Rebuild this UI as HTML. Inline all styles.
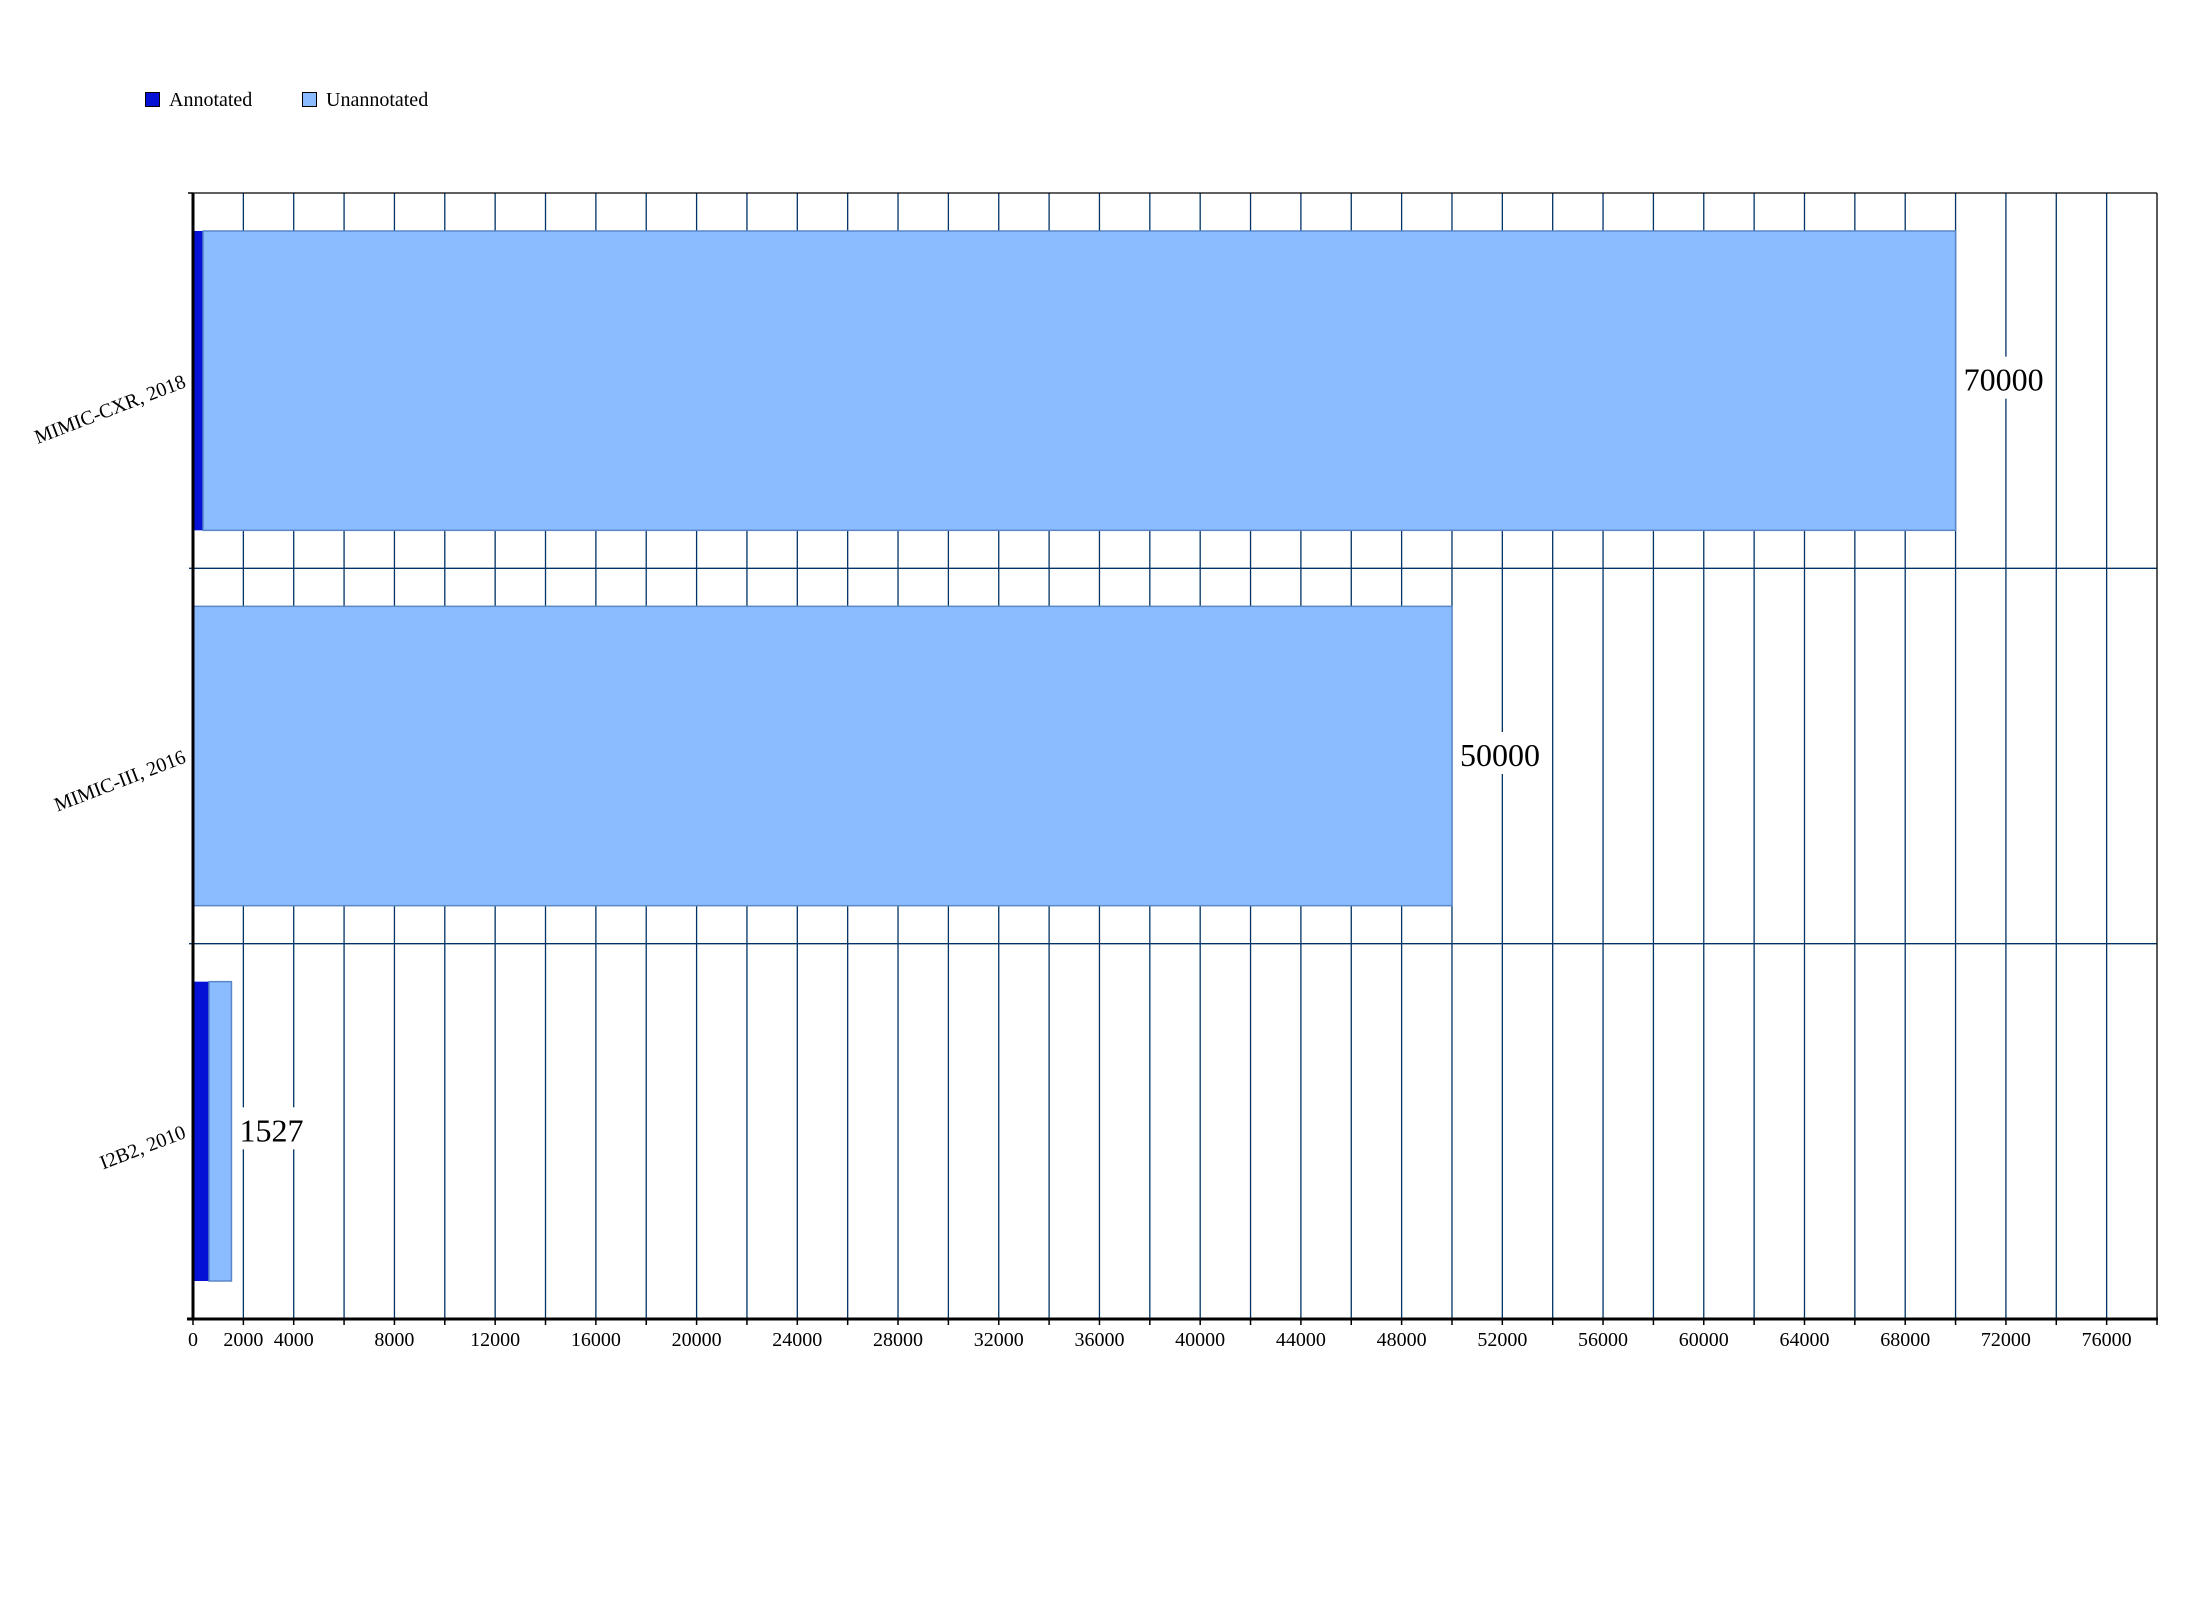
<!DOCTYPE html>
<html><head><meta charset="utf-8"><style>
html,body{margin:0;padding:0;background:#fff;}
svg text{font-family:"Liberation Serif",serif;}
</style></head><body>
<svg id="chart" width="2190" height="1610" xmlns="http://www.w3.org/2000/svg">
<g>
<g>
<rect x="145.5" y="92.5" width="14" height="14" fill="#0511d4" stroke="#000" stroke-width="1"/>
<text x="169" y="106" font-size="20">Annotated</text></g>
<g>
<rect x="302.5" y="92.5" width="14" height="14" fill="#8bbcff" stroke="#000" stroke-width="1"/>
<text x="326" y="106" font-size="20">Unannotated</text></g>
</g>
<g id="grid"></g>
<g id="bars"></g>
<g id="axes"></g>
</svg>
<script>
const categories = ["MIMIC-CXR, 2018", "MIMIC-III, 2016", "I2B2, 2010"];
const annotated = [400, 0, 636];
const unannotated = [69600, 50000, 891];
const totals = [70000, 50000, 1527];
const tickValues = [0,2000,4000,6000,8000,10000,12000,14000,16000,18000,20000,22000,24000,26000,28000,30000,32000,34000,36000,38000,40000,42000,44000,46000,48000,50000,52000,54000,56000,58000,60000,62000,64000,66000,68000,70000,72000,74000,76000,78000];
const tickLabels = ["0","2000","4000","","8000","","12000","","16000","","20000","","24000","","28000","","32000","","36000","","40000","","44000","","48000","","52000","","56000","","60000","","64000","","68000","","72000","","76000",""];
const NS="http://www.w3.org/2000/svg";
const L=193,R=2157,T=193,B=1319,XMAX=78000;
const x=v=>L+(v/XMAX)*(R-L);
const band=(B-T)/categories.length;
const y=i=>T+i*band;
function mk(tag,attrs,parent){const e=document.createElementNS(NS,tag);for(const k in attrs)e.setAttribute(k,attrs[k]);parent.appendChild(e);return e;}
const grid=document.getElementById('grid'),bars=document.getElementById('bars'),axes=document.getElementById('axes');
tickValues.forEach((v,i)=>{
  if(v>0&&v<XMAX){const l=mk('line',{x1:x(v),x2:x(v),y1:T,y2:B,stroke:'#003366','stroke-width':1.3},grid);
  
  }
  const t=mk('line',{x1:x(v),x2:x(v),y1:B,y2:B+6,stroke:'#000','stroke-width':1.5},axes);
  
  
  if(tickLabels[i]){const tl=mk('text',{x:x(v),y:1346,'font-size':20,'text-anchor':'middle'},axes);tl.textContent=tickLabels[i];
  
  }
});
for(let i=1;i<categories.length;i++){
  const l=mk('line',{x1:L-4,x2:R,y1:y(i),y2:y(i),stroke:'#003366','stroke-width':1.3},grid);
  
  
}
const pad=38;
categories.forEach((c,i)=>{
  const y0=y(i)+pad,h=band-2*pad;
  if(annotated[i]>0){const a=mk('rect',{x:x(0),y:y0,width:x(annotated[i])-x(0),height:h,fill:'#0511d4'},bars);
  
  }
  const u=mk('rect',{x:x(annotated[i]),y:y0,width:x(annotated[i]+unannotated[i])-x(annotated[i]),height:h,fill:'#8bbcff',stroke:'#5a86c8','stroke-width':1.5},bars);
  
  
  const cy=y(i)+band/2;
  const bx=x(totals[i])+2;
  const bg=mk('rect',{x:bx,y:cy-24,width:String(totals[i]).length*16+10,height:42,fill:'#fff'},bars);
  
  
  const vt=mk('text',{x:bx+6,y:cy+10,'font-size':32},bars);vt.textContent=totals[i];
  
  
  const ct=mk('text',{x:0,y:0,'font-size':20,'text-anchor':'end',transform:`translate(187,${cy+6}) rotate(-21)`},axes);ct.textContent=c;
  
  
});
const frame=[[L,T,R,T,1.3],[R,T,R,B,1.3],[L-5,T,L,T,1.5]];
frame.forEach(f=>{const l=mk('line',{x1:f[0],y1:f[1],x2:f[2],y2:f[3],stroke:'#000','stroke-width':f[4]},axes);
  
  });
const ya=mk('line',{x1:L,x2:L,y1:T,y2:B+1,stroke:'#000','stroke-width':3},axes);


const xa=mk('line',{x1:L-6,x2:R+1,y1:B,y2:B,stroke:'#000','stroke-width':3},axes);


</script>
</body></html>
